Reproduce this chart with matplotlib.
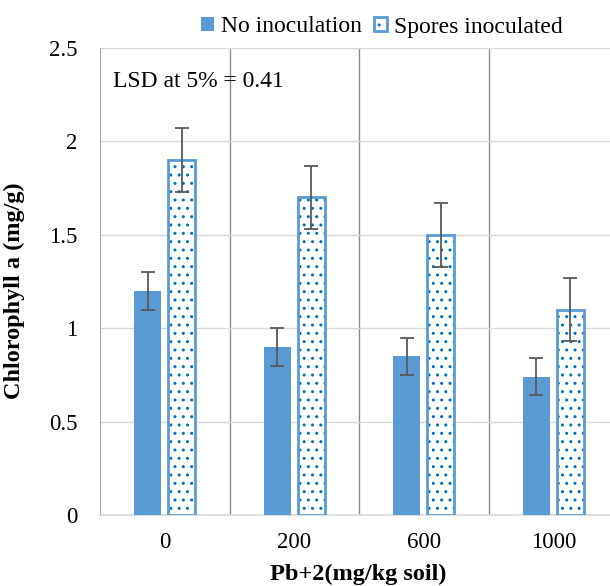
import numpy as np
import matplotlib.pyplot as plt
import matplotlib as mpl

plt.rcParams['font.family'] = ['Liberation Serif', 'DejaVu Serif']
mpl.rcParams['hatch.linewidth'] = 1.0

# data
doses = ['0', '200', '600', '1000']
no_inoc = [1.2, 0.9, 0.85, 0.74]
no_inoc_err = [0.1, 0.1, 0.1, 0.1]
spores = [1.9, 1.7, 1.5, 1.1]
spores_err = [0.17, 0.17, 0.17, 0.17]

blue = '#5B9BD5'
dot = '#0070C0'
grey_err = '#595959'

fig = plt.figure(figsize=(6.10, 5.86), dpi=100)
ax = fig.add_axes([100/610, 1 - 515/586, 518/610, (515 - 48)/586])

x = np.arange(len(doses))
w = 0.21
gap = 0.027
ekw = dict(ecolor=grey_err, elinewidth=1.3, capsize=5, capthick=1.3)
ax.bar(x - w/2 - gap, no_inoc, w, color=blue, yerr=no_inoc_err,
       error_kw=ekw, label='No inoculation', zorder=3)
ax.bar(x + w/2 + gap, spores, w, color='white', edgecolor=blue, linewidth=2,
       hatch='..', yerr=spores_err, error_kw=ekw,
       label='Spores inoculated', zorder=3)
for p in ax.patches[len(doses):]:
    p._hatch_color = mpl.colors.to_rgba(dot)

ax.set_xlim(-0.5, 3.5)
ax.set_ylim(0, 2.5)
ax.set_yticks(np.arange(0, 2.51, 0.5))
ax.set_yticklabels(['0', '0.5', '1', '1.5', '2', '2.5'])
ax.set_xticks(x)
ax.set_xticklabels(doses)
ax.tick_params(axis='both', length=0, labelsize=16.5, colors='black')
ax.tick_params(axis='x', pad=12)
ax.tick_params(axis='y', pad=16)

ax.grid(axis='y', color='#D9D9D9', linewidth=1, zorder=0)
for b in [0.5, 1.5, 2.5]:
    ax.axvline(b, color='#8C8C8C', linewidth=1, zorder=1)

for s in ['top', 'right']:
    ax.spines[s].set_visible(False)
ax.spines['left'].set_color('#A6A6A6')
ax.spines['bottom'].set_color('#D9D9D9')
ax.spines['bottom'].set_linewidth(1.2)

ax.set_ylabel('Chlorophyll a (mg/g)', fontsize=17.5, fontweight='bold')
ax.yaxis.set_label_coords(-0.145, 0.48)
ax.set_xlabel('Pb+2(mg/kg soil)', fontsize=17.5, fontweight='bold', va='center')
ax.xaxis.set_label_coords(0.498, -0.128)

ax.text(0.025, 0.951, 'LSD at 5% = 0.41', transform=ax.transAxes,
        fontsize=17, va='top', ha='left')

fig.legend(loc='center', bbox_to_anchor=(382/610, 1 - 27/586), ncol=2,
           frameon=False, fontsize=17, handlelength=0.55, handleheight=0.55,
           handletextpad=0.3, columnspacing=0.5)

fig.savefig('out.png', dpi=100)
